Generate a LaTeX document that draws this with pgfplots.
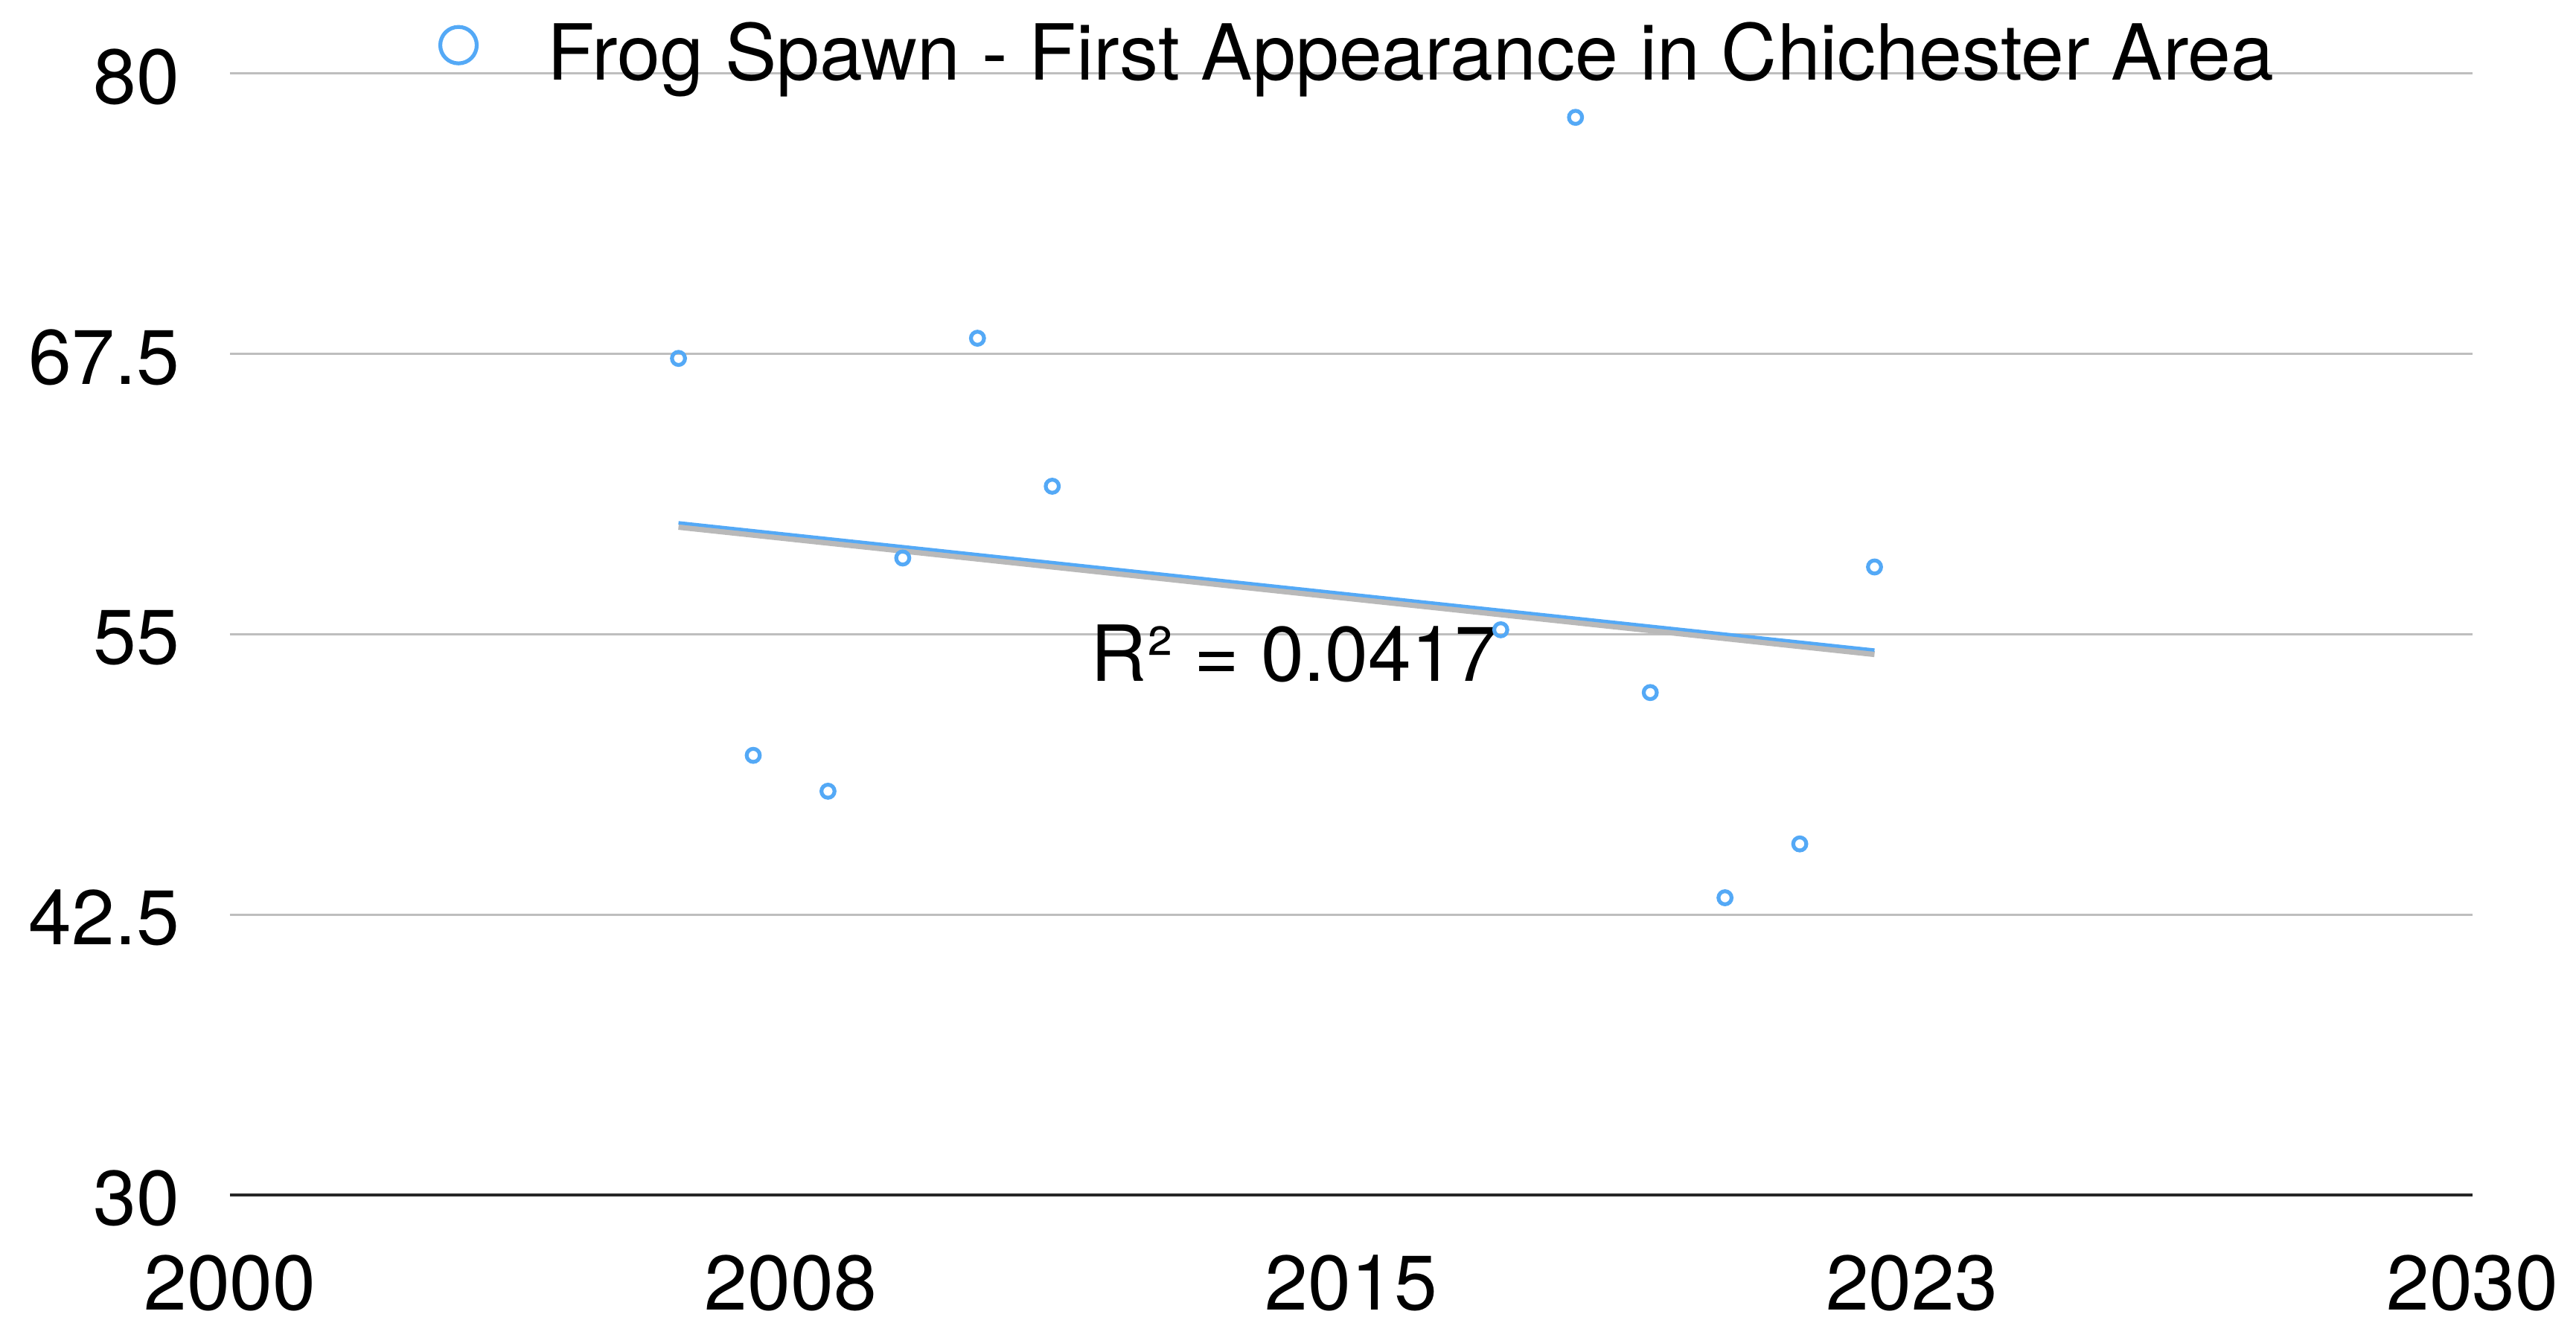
\documentclass[border=0pt]{standalone}
\usepackage{fontspec}
\setmainfont{TeX Gyre Heros}
\usepackage{pgfplots}
\usepackage{pgfplotstable}
\pgfplotsset{compat=1.18}
\definecolor{frog}{RGB}{84,169,246}
\definecolor{gridc}{RGB}{190,190,190}
\pgfplotstableread{
x y
2006 67.3
2007 49.6
2008 48.0
2009 58.4
2010 68.2
2011 61.6
2017 55.2
2018 78.05
2019 52.4
2020 43.25
2021 45.65
2022 58.0
}\frogdata
\begin{document}
\fontsize{10.4}{12.5}\selectfont
\begin{tikzpicture}
\begin{axis}[
  name=ax,
  scale only axis,
  width=301.3pt, height=150.7pt,
  xmin=2000, xmax=2030, ymin=30, ymax=80,
  xtick={2000,2007.5,2015,2022.5,2030},
  xticklabels={2000,2008,2015,2023,2030},
  ytick={30,42.5,55,67.5,80},
  yticklabels={30,42.5,55,67.5,80},
  major tick length=0pt,
  /pgf/number format/assume math mode=true,
  ymajorgrids,
  grid style={gridc, line width=0.3pt},
  axis x line*=bottom,
  axis y line*=left,
  x axis line style={black!85, line width=0.35pt},
  y axis line style={draw=none},
  xticklabel style={inner sep=0pt, anchor=north, yshift=-7.9pt},
  yticklabel style={inner sep=0pt, anchor=east, xshift=-6.6pt, yshift=-0.45pt},
  clip=false,
  legend style={draw=none, fill=none, at={(0.5,1)}, anchor=south, yshift=-2.6pt, xshift=0.8pt,
    inner sep=0pt, nodes={inner sep=0pt}, column sep=9.5pt},
  legend image code/.code={\draw[#1, mark size=2.45pt, line width=0.42pt] plot coordinates {(0cm,0.15em)};},
]
\addplot[forget plot, no marks, gray!55, line width=0.8pt, yshift=-0.55pt]
  table[x=x, y={create col/linear regression={y=y}}] {\frogdata};
\addplot[forget plot, no marks, frog, line width=0.45pt]
  table[x=x, y={create col/linear regression={y=y}}] {\frogdata};
\addplot[only marks, mark=o, frog, mark size=0.88pt, mark options={line width=0.52pt}]
  table[x=x, y=y] {\frogdata};
\addlegendentry{Frog Spawn - First Appearance in Chichester Area}
\node[anchor=base west, inner sep=0pt] at (axis cs:2011.5,52.9) {R² = 0.0417};
\end{axis}
\pgfresetboundingbox
\path[use as bounding box] ([xshift=-30.9pt,yshift=-16.4pt]ax.south west) rectangle ([xshift=13.9pt,yshift=9.9pt]ax.north east);
\end{tikzpicture}
\end{document}
